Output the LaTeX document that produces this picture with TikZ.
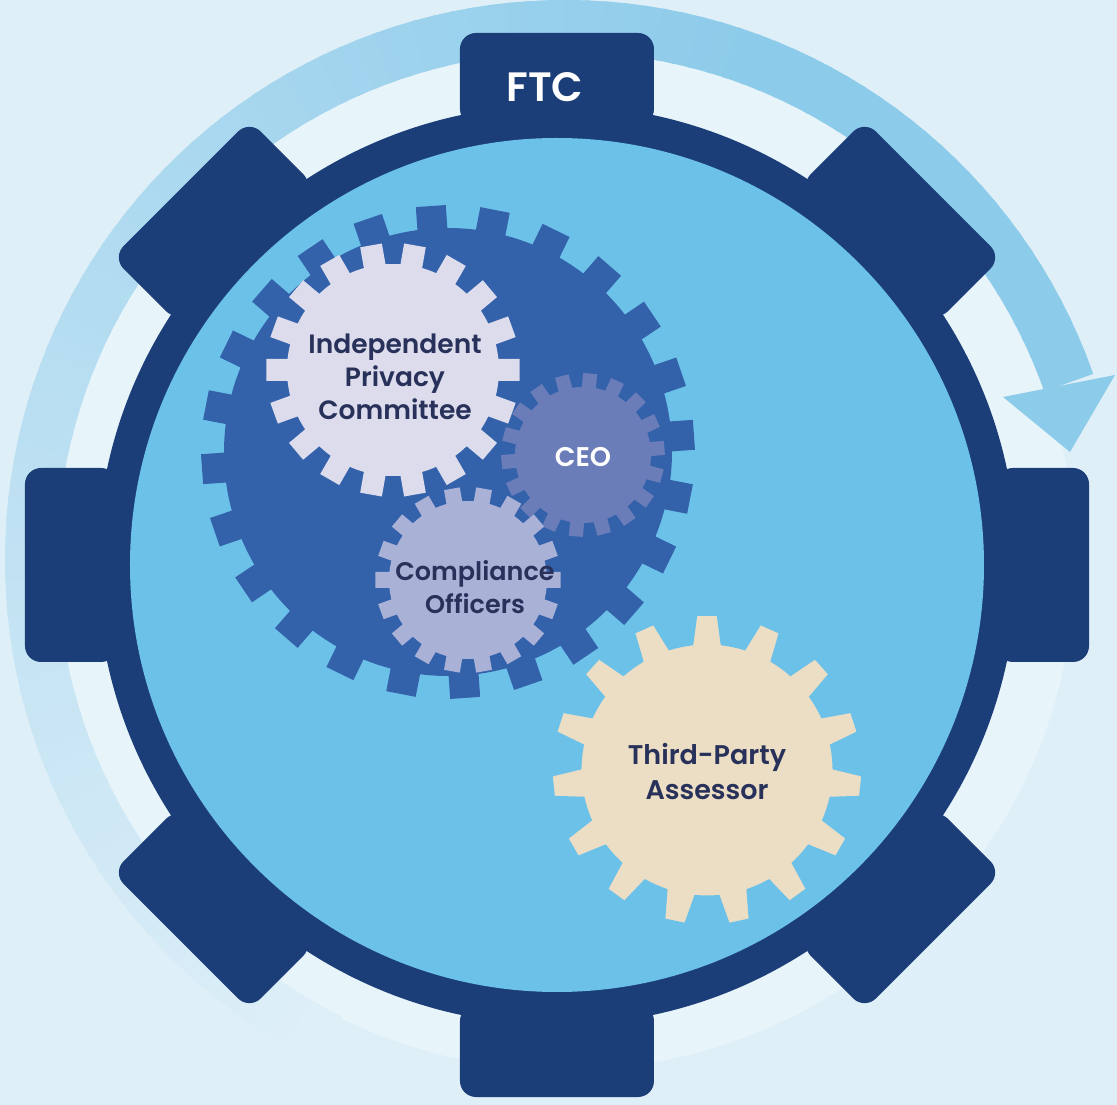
\documentclass[tikz,border=0pt]{standalone}
\usepackage{fontspec}
\setmainfont{Poppins}[BoldFont={Poppins SemiBold}]

\definecolor{bg}{HTML}{DFEFF8}
\definecolor{halo}{HTML}{E7F4FA}
\definecolor{arrowc}{HTML}{8CCBEA}
\definecolor{ring}{HTML}{1C3E78}
\definecolor{inner}{HTML}{6CC1E9}
\definecolor{darkcog}{HTML}{3362AB}
\definecolor{ipc}{HTML}{DCDCEC}
\definecolor{ceo}{HTML}{6B7DB9}
\definecolor{comp}{HTML}{A9B1D7}
\definecolor{beige}{HTML}{ECDEC4}
\definecolor{txt}{HTML}{27315A}

% cog: #1 centre, #2 teeth, #3 root radius, #4 tip radius,
%      #5 half width at root, #6 half width at tip, #7 rotation, #8 style
\newcommand{\cog}[8]{%
  \begin{scope}[shift={#1},rotate=#7]
    \pgfmathsetmacro\cogstep{360/#2}
    \pgfmathsetmacro\cogar{asin(#5/#3)}
    \pgfmathsetmacro\cogat{asin(#6/#4)}
    \fill[#8] (-\cogar:#3pt)
      \foreach \i in {1,...,#2}{
        -- ({(\i-1)*\cogstep-\cogat}:#4pt)
        -- ({(\i-1)*\cogstep+\cogat}:#4pt)
        -- ({(\i-1)*\cogstep+\cogar}:#3pt)
        arc[start angle={(\i-1)*\cogstep+\cogar}, end angle={\i*\cogstep-\cogar}, radius=#3pt]
      } -- cycle;
  \end{scope}}

\tikzset{
  lbl/.style={text=txt, align=center},
  lblw/.style={text=white, align=center},
}

\begin{document}
\begin{tikzpicture}[x=1pt,y=1pt]
  % canvas
  \fill[bg] (-557,565) rectangle (560,-540);
  \useasboundingbox (-557,565) rectangle (560,-540);

  % soft light halo around the big cog
  \fill[halo] (8,5) circle[radius=510pt];

  % circular arrow, fading in from its tail
  \foreach \a in {244,242,...,22} {
    \pgfmathsetmacro\p{max(0,min(100,(244-\a)/174*100))}
    \draw[line width=52pt, arrowc!\p!bg] (8,5) ++(\a:534pt)
      arc[start angle=\a, end angle=\a-2.6, radius=534pt];
  }
  \fill[arrowc] (446,168) coordinate (hl) -- (558,190) coordinate (hr) -- (513,113) coordinate (tip) -- cycle;

  % outer cog: ring with eight rounded teeth
  \fill[ring] (0,0) circle[radius=460pt];
  \foreach \k in {0,...,7}
    \fill[ring, rotate=\k*45, rounded corners=16pt] (440,-97) rectangle (532,97);
  \fill[inner] (0,0) circle[radius=427pt];

  % inner cogs
  \cog{(-109,113)}{24}{224}{247}{15}{15}{4}{darkcog}
  \cog{(26,110)}{18}{68}{82}{7}{7}{5}{ceo}
  \cog{(-89,-15)}{18}{79}{93}{8}{8}{0}{comp}
  \cog{(-164,195)}{18}{106}{127}{11}{11}{0}{ipc}
  \cog{(150,-205)}{15}{128}{157}{16}{12}{90}{beige, draw=inner, line width=5pt}

  % labels
  \node[lblw, font=\bfseries\fontsize{41}{48}\selectfont] (ftc) at (-12,478) {FTC};
  \node[lbl, font=\bfseries\fontsize{26.5}{33}\selectfont] (ipcl) at (-162,188) {Independent\\Privacy\\Committee};
  \node[lblw, font=\bfseries\fontsize{27}{32}\selectfont] (ceol) at (26,108) {CEO};
  \node[lbl, font=\bfseries\fontsize{25.5}{33}\selectfont] (compl) at (-82,-22) {Compliance\\Officers};
  \node[lbl, font=\bfseries\fontsize{27}{35}\selectfont] (tpa) at (150,-207) {Third-Party\\Assessor};
\end{tikzpicture}
\end{document}
